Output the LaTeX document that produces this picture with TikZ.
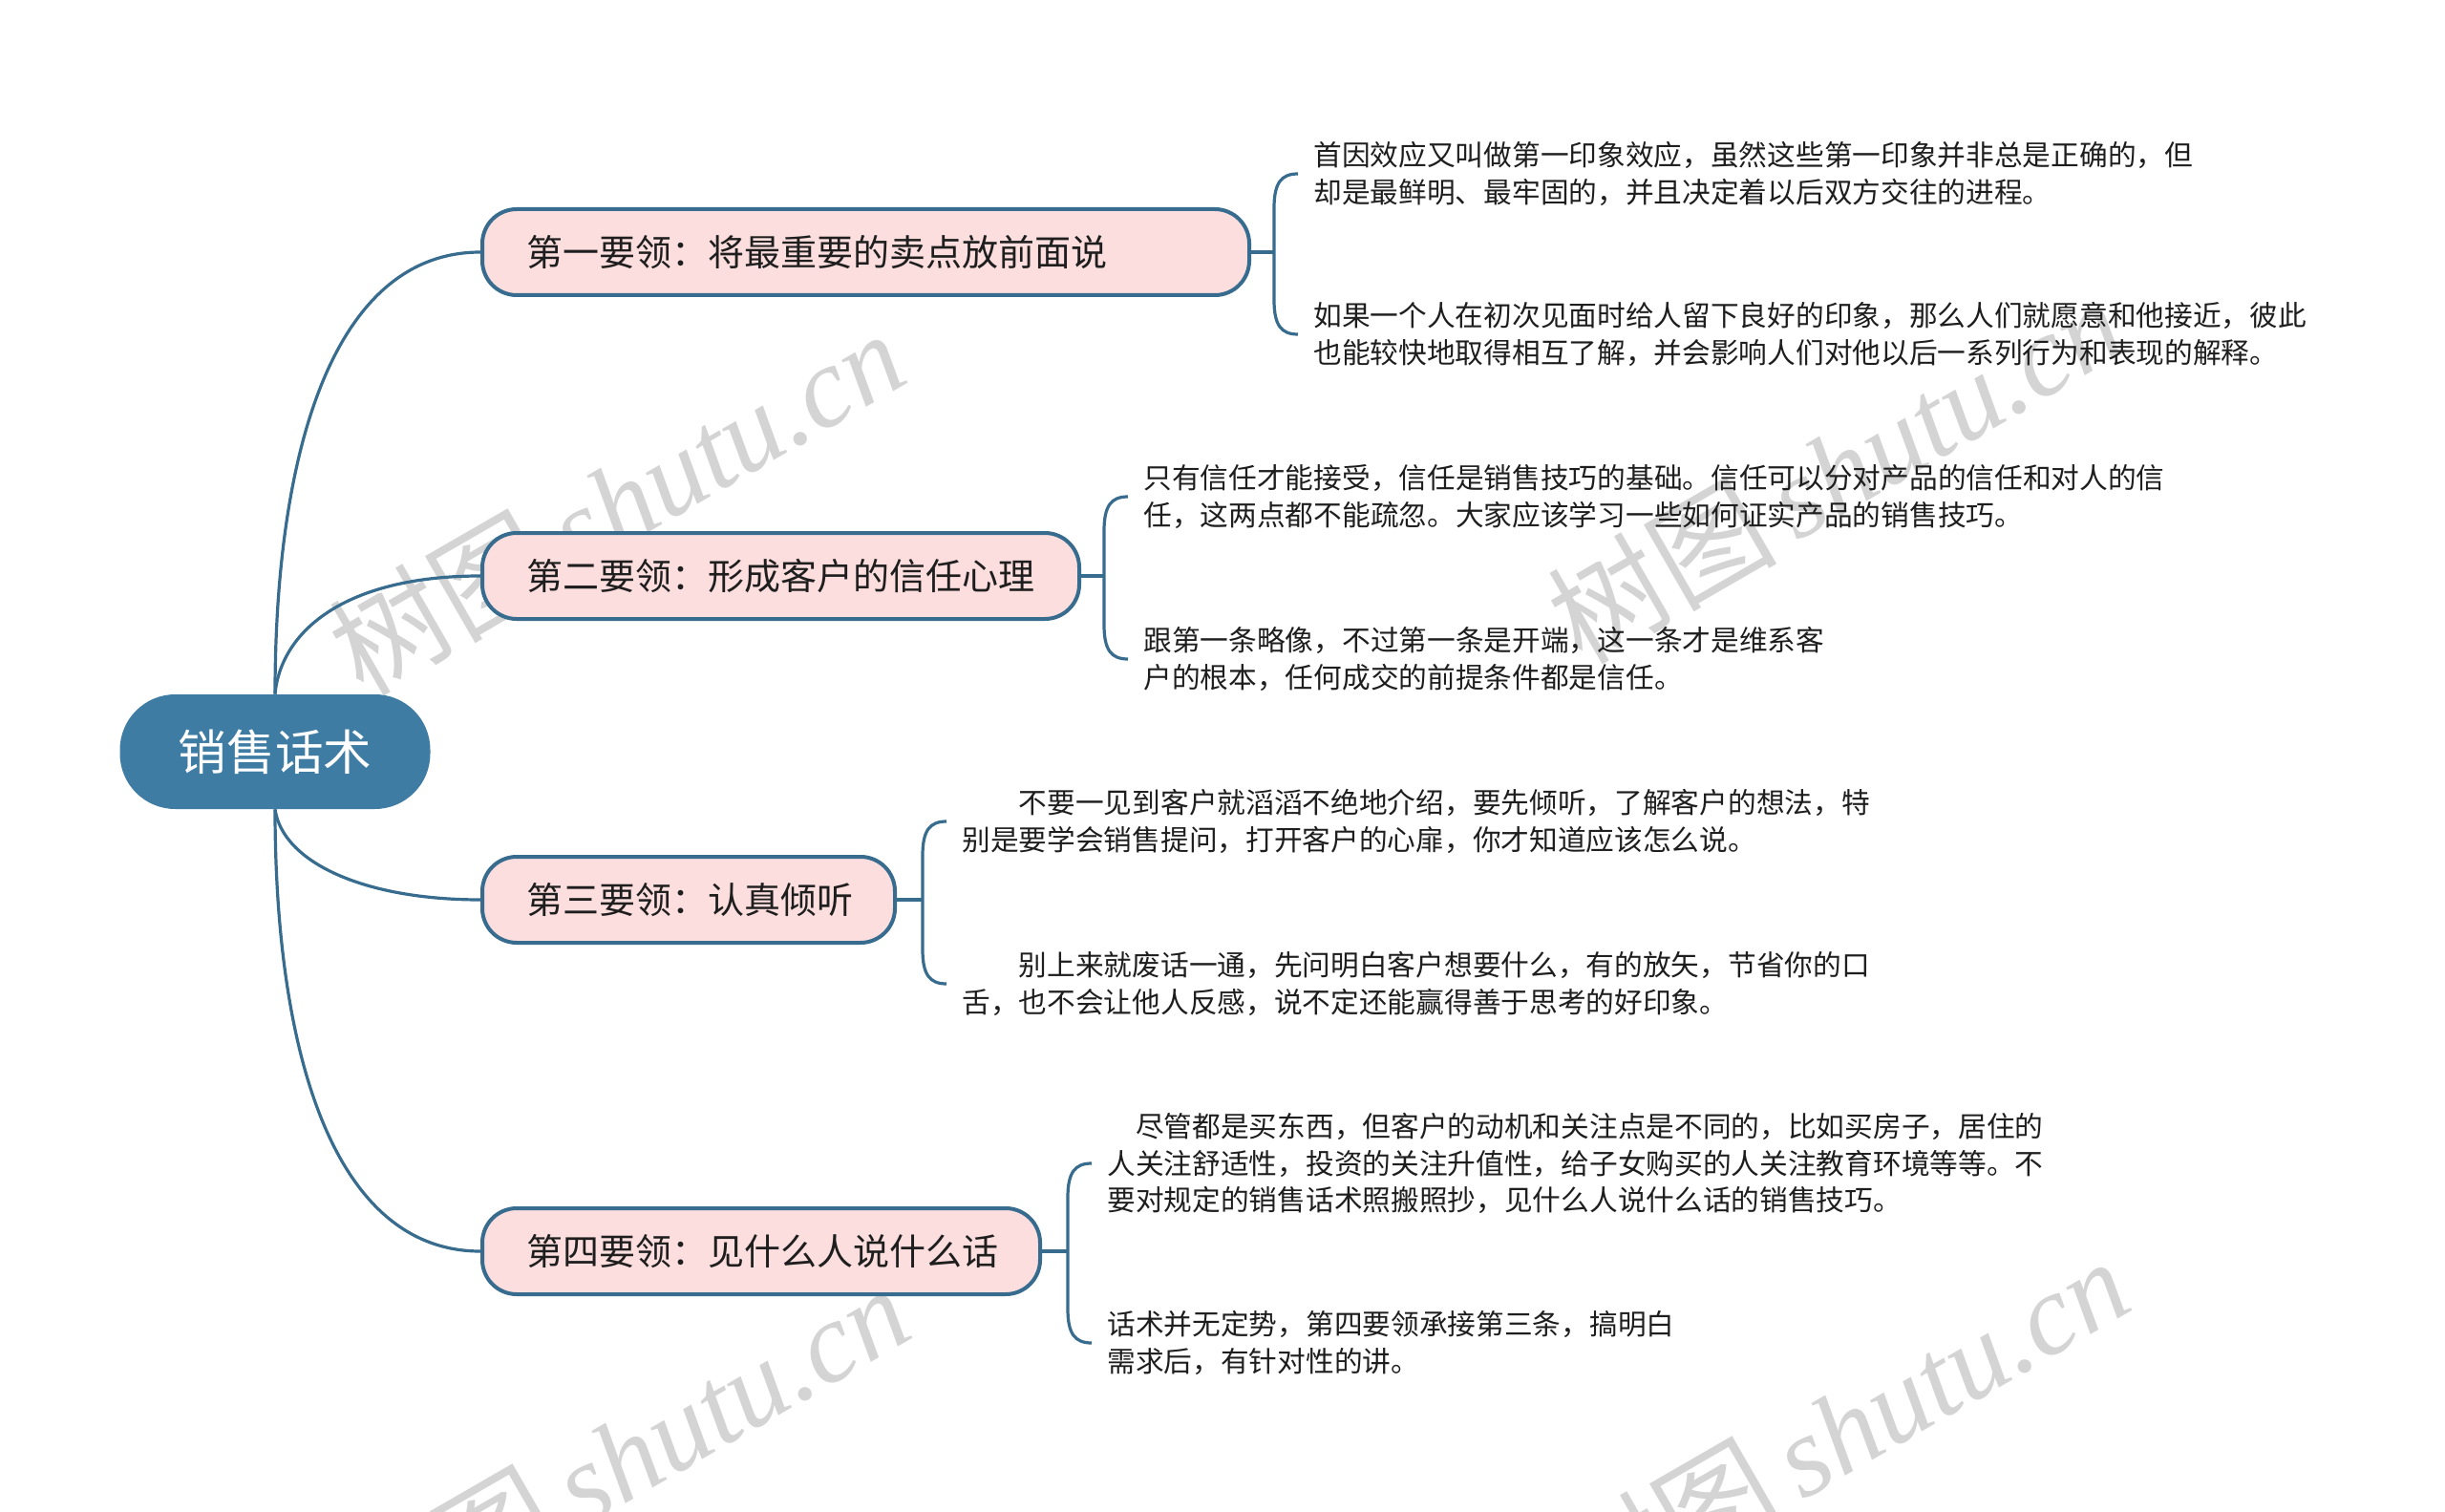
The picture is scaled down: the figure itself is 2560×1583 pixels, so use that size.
\documentclass[tikz,border=0pt]{standalone}
\usepackage{fontspec}
\setmainfont{Noto Sans CJK SC}
\newfontfamily\wmlatin{Liberation Serif}
\usetikzlibrary{calc}
\definecolor{linec}{RGB}{55,108,143}
\definecolor{rootc}{RGB}{62,124,164}
\definecolor{pinkc}{RGB}{252,222,222}
\definecolor{txtc}{RGB}{30,30,30}
\definecolor{wmc}{RGB}{212,212,212}
\begin{document}
\begin{tikzpicture}[x=0.5pt,y=-0.5pt,
 conn/.style={draw=linec, line width=1.6pt},
 rootbox/.style={fill=rootc, rounded corners=29pt, minimum width=162.5pt, minimum height=60pt, text=white, font=\fontsize{25.3pt}{30pt}\selectfont, inner sep=0pt},
 branchbox/.style={draw=linec, line width=2pt, fill=pinkc, rounded corners=18pt, minimum height=45pt, inner xsep=23pt, inner ysep=0pt, anchor=west, text=txtc, font=\fontsize{19pt}{23pt}\selectfont},
 leaftext/.style={anchor=west, align=left, inner sep=0pt, text=txtc, font=\fontsize{14.85pt}{19.2pt}\selectfont},
 wm/.style={text=wmc, rotate=30, font=\fontsize{60pt}{60pt}\selectfont, inner sep=0pt}
]
\useasboundingbox (0,0) rectangle (2560,1583);
\fill[white] (0,0) rectangle (2560,1583);
\clip (0,0) rectangle (2560,1583);

% watermarks
\node[wm] (w1) at (645,525) {树图\,{\wmlatin\itshape shutu.cn}};
\node[wm] (w2) at (1921,492) {树图\,{\wmlatin\itshape shutu.cn}};
\node[wm] (w3) at (650,1525) {树图\,{\wmlatin\itshape shutu.cn}};
\node[wm] (w4) at (1927,1496) {树图\,{\wmlatin\itshape shutu.cn}};

% root
\node[rootbox] (root) at (288,787) {销售话术};

% branches
\node[branchbox] (b1) at (503,264) {\makebox[355.5pt][l]{第一要领：将最重要的卖点放前面说}};
\node[branchbox] (b2) at (503,603) {\makebox[266.5pt][l]{第二要领：形成客户的信任心理}};
\node[branchbox] (b3) at (503,942) {\makebox[170pt][l]{第三要领：认真倾听}};
\node[branchbox] (b4) at (503,1310) {\makebox[246pt][l]{第四要领：见什么人说什么话}};

% root connectors
\draw[conn] (root.north) .. controls +(0,-257) and +(-153,0) .. (b1.west);
\draw[conn] (root.north) .. controls +(6,-65) and +(-143,0) .. (b2.west);
\draw[conn] (root.south) .. controls +(8,55) and +(-123,0) .. (b3.west);
\draw[conn] (root.south) .. controls +(0,257) and +(-153,0) .. (b4.west);

% leaves
\node[leaftext] (l1a) at (1375,182) {首因效应又叫做第一印象效应，虽然这些第一印象并非总是正确的，但\\却是最鲜明、最牢固的，并且决定着以后双方交往的进程。};
\node[leaftext] (l1b) at (1375,350) {如果一个人在初次见面时给人留下良好的印象，那么人们就愿意和他接近，彼此\\也能较快地取得相互了解，并会影响人们对他以后一系列行为和表现的解释。};
\node[leaftext] (l2a) at (1197,520) {只有信任才能接受，信任是销售技巧的基础。信任可以分对产品的信任和对人的信\\任，这两点都不能疏忽。大家应该学习一些如何证实产品的销售技巧。};
\node[leaftext] (l2b) at (1197,690) {跟第一条略像，不过第一条是开端，这一条才是维系客\\户的根本，任何成交的前提条件都是信任。};
\node[leaftext] (l3a) at (1007,860) {\hspace*{2em}不要一见到客户就滔滔不绝地介绍，要先倾听，了解客户的想法，特\\别是要学会销售提问，打开客户的心扉，你才知道应该怎么说。};
\node[leaftext] (l3b) at (1007,1030) {\hspace*{2em}别上来就废话一通，先问明白客户想要什么，有的放矢，节省你的口\\舌，也不会让他人反感，说不定还能赢得善于思考的好印象。};
\node[leaftext] (l4a) at (1159,1218) {\hspace*{1em}尽管都是买东西，但客户的动机和关注点是不同的，比如买房子，居住的\\人关注舒适性，投资的关注升值性，给子女购买的人关注教育环境等等。不\\要对规定的销售话术照搬照抄，见什么人说什么话的销售技巧。};
\node[leaftext] (l4b) at (1159,1406) {话术并无定势，第四要领承接第三条，搞明白\\需求后，有针对性的讲。};

% brackets
\foreach \b/\p/\q in {b1/l1a/l1b, b2/l2a/l2b, b3/l3a/l3b, b4/l4a/l4b}{
  \coordinate (t) at ($(\p.west)+(-16,0)$);
  \coordinate (u) at ($(\q.west)+(-16,0)$);
  \coordinate (v) at ($(t)+(-25,0)$);
  \draw[conn] (\b.east) -- (v |- \b.east);
  \draw[conn] (t) .. controls +(-18,0) and +(0,-26) .. ($(t)+(-25,36)$)
     -- ($(u)+(-25,-36)$) .. controls +(0,26) and +(-18,0) .. (u);
}
\end{tikzpicture}
\end{document}
